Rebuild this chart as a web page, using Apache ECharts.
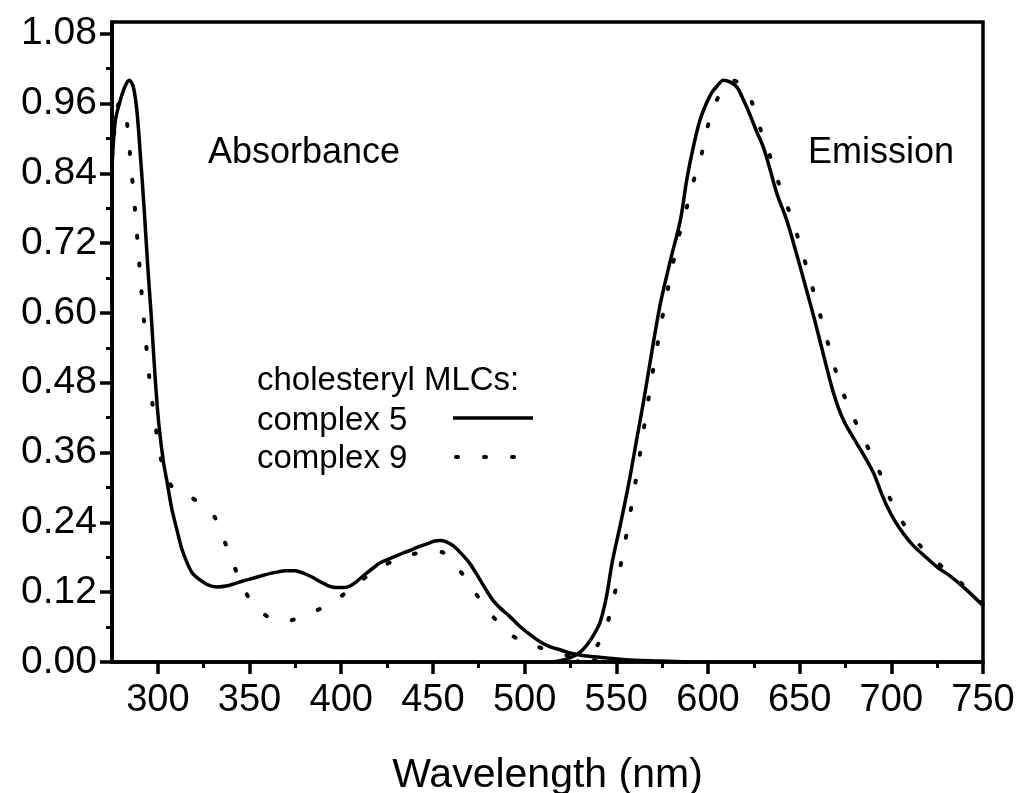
<!DOCTYPE html>
<html>
<head>
<meta charset="utf-8">
<script src="https://cdn.jsdelivr.net/npm/echarts@6/dist/echarts.min.js"></script>
<style>
  html, body { margin: 0; padding: 0; background: #ffffff; }
  #chart { width: 1021px; height: 793px; }
</style>
</head>
<body>
<div id="chart"></div>
<script>
// Axis ticks (wavelength in nm, normalised intensity)
const xMajorTicks = [300, 350, 400, 450, 500, 550, 600, 650, 700, 750];
const xMinorTicks = [325, 375, 425, 475, 525, 575, 625, 675, 725];
const yMajorTicks = [0, 0.12, 0.24, 0.36, 0.48, 0.60, 0.72, 0.84, 0.96, 1.08];
const yMinorTicks = [0.06, 0.18, 0.30, 0.42, 0.54, 0.66, 0.78, 0.90, 1.02];

const seriesNames = ['complex 5', 'complex 9'];

// Complex 5: normalised absorbance [wavelength, value]
const absorbance5 = [
  [275, 0.85], [276.8, 0.93], [279.5, 0.965], [282.2, 0.99], [284.4, 1.0],
  [286.5, 0.99], [288.5, 0.95], [290.5, 0.87], [292.5, 0.78], [294.5, 0.68],
  [296.5, 0.59], [298.5, 0.49], [300.5, 0.41], [303, 0.345], [305, 0.31],
  [307.5, 0.265], [310.4, 0.227], [313, 0.195], [316, 0.17], [319, 0.152],
  [323, 0.141], [327, 0.133], [332, 0.129], [338, 0.131], [345, 0.138],
  [352, 0.144], [357.5, 0.149], [364, 0.154], [370.4, 0.157], [375, 0.157],
  [379, 0.153], [384, 0.146], [388.6, 0.138], [393, 0.131], [397.7, 0.128],
  [402, 0.128], [406.6, 0.134], [412, 0.148], [417.6, 0.162], [421, 0.170],
  [426.7, 0.178], [432, 0.185], [437.6, 0.192], [442, 0.198], [446.7, 0.203],
  [451, 0.208], [454, 0.209], [457, 0.207], [461, 0.200], [465, 0.188],
  [470, 0.170], [475, 0.145], [479, 0.124], [483, 0.105], [486.6, 0.093],
  [492, 0.078], [497.5, 0.061], [503, 0.047], [508.4, 0.035], [514, 0.026],
  [519.3, 0.021], [524, 0.016], [528.4, 0.013], [535, 0.010], [545, 0.007],
  [555, 0.004], [570, 0.002], [590, 0.0]
];

// Complex 5: normalised emission
const emission5 = [
  [515, 0.0], [522, 0.004], [528, 0.012], [532, 0.022], [536, 0.038],
  [541, 0.067], [544.5, 0.11], [548, 0.175], [552.5, 0.24], [557, 0.31],
  [561, 0.38], [565, 0.45], [569.5, 0.535], [574, 0.615], [579.5, 0.69],
  [585, 0.76], [588.5, 0.83], [592, 0.885], [595.5, 0.93], [599.4, 0.962],
  [602, 0.978], [605, 0.99], [608.4, 1.0], [612, 0.997], [615.8, 0.988],
  [619.5, 0.965], [623, 0.94], [626.5, 0.912], [630.3, 0.884], [634, 0.845],
  [637.6, 0.805], [643, 0.759], [648, 0.705], [653, 0.648], [658, 0.59],
  [663, 0.528], [668.5, 0.462], [674, 0.415], [681.3, 0.375], [686, 0.35],
  [690.3, 0.325], [694, 0.295], [697.6, 0.268], [702, 0.242], [706.5, 0.221],
  [712, 0.2], [717.5, 0.184], [725, 0.163], [732, 0.148], [741, 0.124],
  [750, 0.097]
];

// Complex 9: normalised absorbance
const absorbance9 = [
  [275, 0.86], [277, 0.935], [279, 0.96], [281, 0.96], [282.8, 0.935],
  [284.1, 0.90], [285.4, 0.85], [286.8, 0.805], [289, 0.72], [291, 0.64],
  [293.5, 0.55], [296, 0.47], [299, 0.40], [302, 0.345], [306, 0.31],
  [311, 0.29], [316.8, 0.285], [322, 0.275], [327, 0.263], [330.8, 0.25],
  [334, 0.228], [336.8, 0.204], [339.7, 0.18], [342.6, 0.157], [346.5, 0.13],
  [350.4, 0.106], [356, 0.087], [363, 0.073], [371, 0.071], [378.9, 0.079],
  [386, 0.088], [394.4, 0.10], [402, 0.118], [410, 0.138], [420, 0.16],
  [430, 0.176], [440, 0.186], [448, 0.19], [454.8, 0.189], [461, 0.17],
  [468.5, 0.142], [473, 0.12], [478.5, 0.094], [485, 0.07], [491, 0.050],
  [498, 0.037], [506.4, 0.027], [516, 0.017], [526.6, 0.009], [535, 0.004],
  [545, 0.0]
];

// Complex 9: normalised emission
const emission9 = [
  [528, 0.0], [535, 0.01], [540, 0.03], [545, 0.065], [550, 0.13],
  [555, 0.21], [560, 0.30], [565, 0.40], [570, 0.50], [575, 0.59],
  [580, 0.67], [584, 0.73], [588, 0.776], [592, 0.825], [596.6, 0.874],
  [599.4, 0.915], [604.6, 0.964], [609.6, 0.993], [613, 1.0], [617, 0.995],
  [621, 0.98], [624, 0.962], [628.5, 0.917], [634, 0.868], [639, 0.819],
  [644.8, 0.77], [650, 0.72], [655, 0.665], [660, 0.61], [665, 0.553],
  [670, 0.497], [674, 0.46], [678.7, 0.425], [685.5, 0.38], [693, 0.331],
  [699, 0.283], [707.6, 0.233], [718.8, 0.189], [731, 0.155], [740, 0.13],
  [750, 0.10]
];

const FONT = '"Liberation Sans", Arial, Helvetica, sans-serif';
const INK = '#000000';

const solidStyle = { color: INK, width: 3.5, type: 'solid' };
const dottedStyle = { color: INK, width: 4, type: [2, 26], cap: 'round' };

function curve(name, data, lineStyle) {
  return {
    name: name,
    type: 'line',
    data: data,
    symbol: 'none',
    smooth: 0.3,
    color: INK,
    lineStyle: lineStyle,
    xAxisIndex: 0,
    yAxisIndex: 0,
    z: 3
  };
}

// Legend sample strokes, drawn to the right of each series label
function legendSample(y, ls, x0, x1) {
  return {
    type: 'line',
    shape: { x1: x0, y1: y, x2: x1, y2: y },
    style: {
      stroke: ls.color, lineWidth: ls.width,
      lineDash: Array.isArray(ls.type) ? ls.type : null,
      lineCap: ls.cap || 'butt'
    }
  };
}

const chart = echarts.init(document.getElementById('chart'), null, { renderer: 'canvas' });

const xBase = { type: 'value', min: 275, max: 750, splitLine: { show: false }, gridIndex: 0 };
const yBase = { type: 'value', min: 0, max: 1.1, splitLine: { show: false }, gridIndex: 0 };

chart.setOption({
  animation: false,
  backgroundColor: '#ffffff',
  grid: {
    left: 112, right: 38, top: 22, bottom: 131,
    containLabel: false,
    outerBoundsMode: 'none',
    show: true, borderColor: INK, borderWidth: 3.5, backgroundColor: 'transparent'
  },
  xAxis: [
    Object.assign({}, xBase, {
      position: 'bottom',
      name: 'Wavelength (nm)',
      nameLocation: 'middle',
      nameGap: 93,
      nameTextStyle: { fontFamily: FONT, fontSize: 41, color: INK },
      axisLine: { show: true, onZero: false, lineStyle: { color: INK, width: 3.5 } },
      axisTick: { show: true, inside: false, length: 12, customValues: xMajorTicks, lineStyle: { color: INK, width: 3.5 } },
      axisLabel: { show: true, customValues: xMajorTicks, margin: 20, fontFamily: FONT, fontSize: 38, color: INK }
    }),
    Object.assign({}, xBase, {
      position: 'bottom',
      axisLine: { show: false, onZero: false },
      axisTick: { show: true, inside: false, length: 6, customValues: xMinorTicks, lineStyle: { color: INK, width: 3 } },
      axisLabel: { show: false }
    })
  ],
  yAxis: [
    Object.assign({}, yBase, {
      position: 'left',
      axisLine: { show: true, onZero: false, lineStyle: { color: INK, width: 3.5 } },
      axisTick: { show: true, inside: false, length: 12, customValues: yMajorTicks, lineStyle: { color: INK, width: 3.5 } },
      axisLabel: {
        show: true, customValues: yMajorTicks, margin: 15,
        fontFamily: FONT, fontSize: 39, color: INK,
        formatter: function (v) { return v.toFixed(2); }
      }
    }),
    Object.assign({}, yBase, {
      position: 'left',
      axisLine: { show: false, onZero: false },
      axisTick: { show: true, inside: false, length: 6, customValues: yMinorTicks, lineStyle: { color: INK, width: 3 } },
      axisLabel: { show: false }
    })
  ],
  graphic: [
    { type: 'text', x: 208, y: 153, style: { text: 'Absorbance', font: '36px ' + FONT, fill: INK, verticalAlign: 'middle' } },
    { type: 'text', x: 808, y: 153, style: { text: 'Emission', font: '36px ' + FONT, fill: INK, verticalAlign: 'middle' } },
    { type: 'text', x: 257, y: 381, style: { text: 'cholesteryl MLCs:', font: '33px ' + FONT, fill: INK, verticalAlign: 'middle' } },
    { type: 'text', x: 257, y: 421, style: { text: seriesNames[0], font: '33px ' + FONT, fill: INK, verticalAlign: 'middle' } },
    { type: 'text', x: 257, y: 459, style: { text: seriesNames[1], font: '33px ' + FONT, fill: INK, verticalAlign: 'middle' } },
    legendSample(418, solidStyle, 453, 533),
    legendSample(457, dottedStyle, 456, 533)
  ],
  series: [
    curve(seriesNames[0], absorbance5, solidStyle),
    curve(seriesNames[0], emission5, solidStyle),
    curve(seriesNames[1], absorbance9, dottedStyle),
    curve(seriesNames[1], emission9, dottedStyle)
  ]
});
</script>
</body>
</html>
